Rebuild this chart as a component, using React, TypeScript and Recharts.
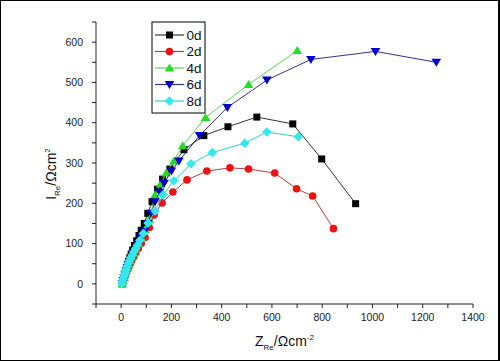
import React from 'react';
import { ScatterChart, Scatter, XAxis, YAxis } from 'recharts';

// ---- data ----
const SERIES_NAMES = ['0d', '2d', '4d', '6d', '8d'];

const X_0D = [5, 8, 11, 14, 18, 22, 26, 30, 35, 40, 46, 53, 62, 71, 80, 92, 106, 123, 145, 165, 194, 250, 329, 425, 540, 683, 798, 933];
const Y_0D = [0, 8, 16, 24, 32, 40, 48, 56, 65, 74, 84, 95, 107, 120, 133, 150, 175, 204, 235, 260, 285, 333, 368, 390, 414, 397, 310, 199];

const X_2D = [5, 8, 12, 16, 20, 25, 30, 36, 42, 50, 58, 68, 80, 95, 112, 131, 163, 206, 262, 341, 433, 507, 611, 698, 762, 845];
const Y_2D = [0, 7, 14, 21, 28, 35, 42, 50, 58, 67, 77, 88, 100, 115, 140, 171, 201, 228, 258, 280, 288, 285, 275, 236, 218, 137];

const X_4D = [5, 8, 12, 16, 20, 25, 30, 36, 42, 50, 58, 68, 80, 95, 112, 135, 157, 179, 210, 245, 336, 507, 701];
const Y_4D = [0, 8, 16, 24, 32, 40, 48, 57, 66, 76, 87, 100, 115, 135, 160, 221, 248, 275, 305, 343, 413, 495, 579];

const X_6D = [5, 8, 12, 16, 20, 25, 30, 36, 42, 50, 58, 68, 80, 92, 106, 120, 135, 153, 171, 200, 230, 312, 423, 580, 755, 1012, 1254];
const Y_6D = [0, 8, 16, 24, 32, 40, 48, 57, 66, 76, 87, 100, 115, 130, 150, 175, 204, 228, 250, 280, 305, 368, 438, 506, 557, 577, 550];

const X_8D = [3, 5, 8, 11, 14, 17, 20, 24, 28, 33, 38, 44, 50, 57, 65, 75, 88, 107, 135, 167, 210, 278, 363, 492, 580, 705];
const Y_8D = [0, 6, 12, 18, 24, 30, 36, 43, 50, 57, 64, 71, 79, 87, 96, 108, 125, 151, 181, 221, 256, 298, 326, 349, 377, 365];

const X_TICKS = [-100, 0, 100, 200, 300, 400, 500, 600, 700, 800, 900, 1000, 1100, 1200, 1300, 1400];
const X_TICK_LABELS = [0, 200, 400, 600, 800, 1000, 1200, 1400];
const Y_TICKS = [-50, 0, 50, 100, 150, 200, 250, 300, 350, 400, 450, 500, 550, 600, 650];
const Y_TICK_LABELS = [0, 100, 200, 300, 400, 500, 600];

// ---- styles ----
const MARKER_COLORS = ['#000000', '#ee1111', '#22dd22', '#0000cc', '#33e8f0'];
const LINE_COLORS = ['#333333', '#b04040', '#66cc66', '#333388', '#33cccc'];
const MARKER_KINDS = ['square', 'circle', 'up', 'down', 'diamond'];

const FONT = 'Arial, "Liberation Sans", sans-serif';

function toPoints(xs: number[], ys: number[]) {
  return xs.map((x, i) => ({ x, y: ys[i] }));
}

const SERIES_DATA = [
  toPoints(X_0D, Y_0D),
  toPoints(X_2D, Y_2D),
  toPoints(X_4D, Y_4D),
  toPoints(X_6D, Y_6D),
  toPoints(X_8D, Y_8D),
];

function Marker({ kind, cx, cy, fill }: { kind: string; cx: number; cy: number; fill: string }) {
  switch (kind) {
    case 'square':
      return <rect x={cx - 3.5} y={cy - 3.5} width={7} height={7} fill={fill} />;
    case 'circle':
      return <circle cx={cx} cy={cy} r={3.8} fill={fill} />;
    case 'up':
      return <polygon points={`${cx},${cy - 4.5} ${cx - 4.8},${cy + 3.5} ${cx + 4.8},${cy + 3.5}`} fill={fill} />;
    case 'down':
      return <polygon points={`${cx - 4.8},${cy - 3.5} ${cx + 4.8},${cy - 3.5} ${cx},${cy + 4.5}`} fill={fill} />;
    default:
      return <polygon points={`${cx},${cy - 4.8} ${cx + 4.8},${cy} ${cx},${cy + 4.8} ${cx - 4.8},${cy}`} fill={fill} />;
  }
}

function makeShape(kind: string, fill: string) {
  return (props: any) => {
    const { cx, cy } = props;
    if (cx == null || cy == null) return <g />;
    return <Marker kind={kind} cx={cx} cy={cy} fill={fill} />;
  };
}

const XTick = (props: any) => {
  const { x, y, payload } = props;
  if (!X_TICK_LABELS.includes(payload.value)) return <g />;
  return (
    <text x={x} y={y} dy="0.71em" textAnchor="middle" fontSize={10.5} fontFamily={FONT} fill="#222">
      {payload.value}
    </text>
  );
};

const YTick = (props: any) => {
  const { x, y, payload } = props;
  if (!Y_TICK_LABELS.includes(payload.value)) return <g />;
  return (
    <text x={x} y={y} dy="0.355em" textAnchor="end" fontSize={10.5} fontFamily={FONT} fill="#222">
      {payload.value}
    </text>
  );
};

const YLabel = () => (
  <text
    x={56}
    y={174}
    transform="rotate(-90, 56, 174)"
    textAnchor="middle"
    fontSize={14}
    fontFamily={FONT}
    fill="#111"
  >
    <tspan>I</tspan>
    <tspan dy={4} fontSize={8}>Re</tspan>
    <tspan dy={-4}>/Ωcm</tspan>
    <tspan dy={-6} fontSize={8}>2</tspan>
  </text>
);

const XLabel = () => (
  <text x={255} y={346} fontSize={14} fontFamily={FONT} fill="#111">
    <tspan>Z</tspan>
    <tspan dy={4} fontSize={8}>Re</tspan>
    <tspan dy={-4}>/Ωcm</tspan>
    <tspan dy={-6} fontSize={8}>-2</tspan>
  </text>
);

function LegendBox() {
  return (
    <svg width={55} height={93} style={{ position: 'absolute', left: 151, top: 21 }}>
      <rect x={1} y={1} width={53} height={91} fill="#fff" stroke="#000" strokeWidth={1} />
      {SERIES_NAMES.map((name, i) => {
        const cy = 14 + i * 16.5;
        return (
          <g key={name}>
            <line x1={4} x2={33} y1={cy} y2={cy} stroke={LINE_COLORS[i]} strokeWidth={1.2} />
            <Marker kind={MARKER_KINDS[i]} cx={18.5} cy={cy} fill={MARKER_COLORS[i]} />
            <text x={35.5} y={cy} dy="0.36em" fontSize={13.5} fontFamily={FONT} fill="#111">
              {name}
            </text>
          </g>
        );
      })}
    </svg>
  );
}

export default function App() {
  return (
    <div style={{ position: 'absolute', left: 0, top: 0, width: 500, height: 361, background: '#fff' }}>
      <div style={{ position: 'absolute', left: 0, top: 0 }}>
        <ScatterChart width={500} height={361} margin={{ top: 22, right: 27, bottom: 0, left: 0 }}>
          <XAxis
            type="number"
            dataKey="x"
            domain={[-100, 1400]}
            ticks={X_TICKS}
            interval={0}
            height={57}
            tickSize={4}
            tickMargin={6}
            stroke="#222"
            tick={<XTick />}
            label={<XLabel />}
            allowDataOverflow
          />
          <YAxis
            type="number"
            dataKey="y"
            domain={[-50, 650]}
            ticks={Y_TICKS}
            interval={0}
            width={96}
            tickSize={4}
            tickMargin={9}
            stroke="#222"
            tick={<YTick />}
            label={<YLabel />}
            allowDataOverflow
          />
          {SERIES_DATA.map((data, i) => (
            <Scatter
              key={SERIES_NAMES[i]}
              name={SERIES_NAMES[i]}
              data={data}
              line={{ stroke: LINE_COLORS[i], strokeWidth: 1 }}
              lineType="joint"
              shape={makeShape(MARKER_KINDS[i], MARKER_COLORS[i])}
              isAnimationActive={false}
            />
          ))}
        </ScatterChart>
      </div>
      <LegendBox />
      <div
        style={{
          position: 'absolute',
          left: 0,
          top: 0,
          width: 500,
          height: 361,
          boxSizing: 'border-box',
          border: '1px solid #000',
          borderRightWidth: 2,
          pointerEvents: 'none',
        }}
      />
    </div>
  );
}
